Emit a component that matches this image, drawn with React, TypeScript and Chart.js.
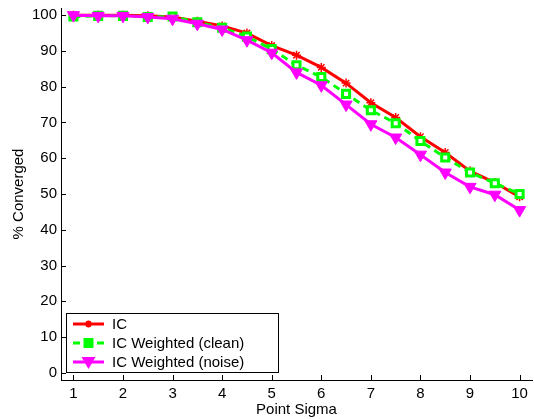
import React, { useEffect, useRef } from "react";
import { Chart, registerables } from "chart.js";

Chart.register(...registerables);

const sigmas = [1, 1.5, 2, 2.5, 3, 3.5, 4, 4.5, 5, 5.5, 6, 6.5, 7, 7.5, 8, 8.5, 9, 9.5, 10];
const icValues = [100, 100, 100, 99.8, 99.5, 98.3, 97, 95, 91.5, 88.8, 85.4, 81, 75.5, 71.4, 66, 61.6, 56.4, 53.2, 49.2];
const cleanValues = [99.6, 99.8, 99.8, 99.5, 99.6, 98, 96.5, 94, 90.5, 86, 82.7, 78, 73.4, 69.8, 64.8, 60.2, 56, 53, 50];
const noiseValues = [100, 99.8, 99.8, 99.5, 99, 97.6, 96, 93, 89.5, 84, 80.4, 75, 69.5, 65.8, 61, 56, 52, 49.8, 45.5];
const seriesLabels = ["IC", "IC Weighted (clean)", "IC Weighted (noise)"];
const xTicks = [1, 2, 3, 4, 5, 6, 7, 8, 9, 10];
const yTicks = [0, 10, 20, 30, 40, 50, 60, 70, 80, 90, 100];

const FONT = "'Liberation Sans', Arial, sans-serif";
const RED = "#ff0000";
const GREEN = "#00ff00";
const MAGENTA = "#ff00ff";

function drawStar(ctx: CanvasRenderingContext2D, x: number, y: number, r: number, color: string) {
  ctx.save();
  ctx.strokeStyle = color;
  ctx.lineWidth = 2;
  ctx.beginPath();
  ctx.moveTo(x - r, y); ctx.lineTo(x + r, y);
  ctx.moveTo(x, y - r); ctx.lineTo(x, y + r);
  const d = r * 0.7;
  ctx.moveTo(x - d, y - d); ctx.lineTo(x + d, y + d);
  ctx.moveTo(x - d, y + d); ctx.lineTo(x + d, y - d);
  ctx.stroke();
  ctx.restore();
}

function drawRect(ctx: CanvasRenderingContext2D, x: number, y: number, r: number, color: string) {
  ctx.save();
  ctx.fillStyle = color;
  ctx.fillRect(x - r, y - r, 2 * r, 2 * r);
  ctx.restore();
}

function drawTriDown(ctx: CanvasRenderingContext2D, x: number, y: number, r: number, color: string) {
  ctx.save();
  ctx.fillStyle = color;
  ctx.beginPath();
  ctx.moveTo(x - r, y - r * 0.7);
  ctx.lineTo(x + r, y - r * 0.7);
  ctx.lineTo(x, y + r);
  ctx.closePath();
  ctx.fill();
  ctx.restore();
}

const overlayPlugin = {
  id: "overlay",
  afterDatasetsDraw(chart: any) {
    const ctx: CanvasRenderingContext2D = chart.ctx;
    const xs = chart.scales.x;
    const ys = chart.scales.y;
    const area = chart.chartArea;
    ctx.save();
    ctx.strokeStyle = "#000";
    ctx.lineWidth = 1;
    ctx.beginPath();
    for (const t of xTicks) {
      const px = Math.round(xs.getPixelForValue(t)) + 0.5;
      ctx.moveTo(px, area.bottom);
      ctx.lineTo(px, area.bottom - 5);
    }
    for (const t of yTicks) {
      const py = Math.round(ys.getPixelForValue(t)) + 0.5;
      ctx.moveTo(area.left, py);
      ctx.lineTo(area.left + 5, py);
    }
    ctx.stroke();
    ctx.restore();

    const bx = 66, by = 313, bw = 212, bh = 59;
    ctx.save();
    ctx.fillStyle = "#fff";
    ctx.fillRect(bx, by, bw, bh);
    ctx.strokeStyle = "#000";
    ctx.lineWidth = 1;
    ctx.strokeRect(bx + 0.5, by + 0.5, bw, bh);
    const rows = [324, 343, 362];
    const colors = [RED, GREEN, MAGENTA];
    ctx.font = `15px ${FONT}`;
    ctx.textBaseline = "middle";
    ctx.textAlign = "left";
    rows.forEach((ry, i) => {
      ctx.save();
      ctx.strokeStyle = colors[i];
      ctx.lineWidth = 3;
      if (i === 1) ctx.setLineDash([7, 5]);
      ctx.beginPath();
      ctx.moveTo(73, ry);
      ctx.lineTo(104, ry);
      ctx.stroke();
      ctx.restore();
      if (i === 0) drawStar(ctx, 88.5, ry, 3.5, RED);
      if (i === 1) drawRect(ctx, 88.5, ry, 5, GREEN);
      if (i === 2) drawTriDown(ctx, 88.5, ry, 7, MAGENTA);
      ctx.fillStyle = "#000";
      ctx.fillText(seriesLabels[i], 112, ry + 1);
    });
    ctx.restore();
  },
};

export default function App() {
  const canvasRef = useRef<HTMLCanvasElement | null>(null);

  useEffect(() => {
    if (!canvasRef.current) return;
    const toPts = (vals: number[]) => sigmas.map((s, i) => ({ x: s, y: vals[i] }));
    const chart = new Chart(canvasRef.current, {
      type: "line",
      data: {
        datasets: [
          {
            label: seriesLabels[0],
            data: toPts(icValues),
            borderColor: RED,
            backgroundColor: RED,
            borderWidth: 3,
            pointStyle: "star",
            pointRadius: 4.5,
            pointBorderWidth: 1.5,
            pointBorderColor: RED,
            order: 3,
            clip: false,
          },
          {
            label: seriesLabels[1],
            data: toPts(cleanValues),
            borderColor: GREEN,
            backgroundColor: GREEN,
            borderWidth: 3,
            borderDash: [7, 5],
            pointStyle: "rect",
            pointRadius: 5,
            pointBorderWidth: 3,
            pointBorderColor: GREEN,
            pointBackgroundColor: "#ffffff",
            order: 2,
            clip: false,
          },
          {
            label: seriesLabels[2],
            data: toPts(noiseValues),
            borderColor: MAGENTA,
            backgroundColor: MAGENTA,
            borderWidth: 3,
            pointStyle: "triangle",
            rotation: 180,
            pointRadius: 7,
            pointBorderWidth: 1,
            pointBorderColor: MAGENTA,
            order: 1,
            clip: false,
          },
        ],
      },
      options: {
        responsive: false,
        animation: false,
        layout: { autoPadding: false, padding: { top: 8, right: 2, left: 0, bottom: 0 } },
        plugins: {
          legend: { display: false },
          tooltip: { enabled: false },
        },
        scales: {
          x: {
            type: "linear",
            min: 0.75,
            max: 10.25,
            grid: { display: false, drawTicks: false },
            border: { display: true, color: "#000", width: 1 },
            afterBuildTicks: (scale: any) => {
              scale.ticks = xTicks.map((v) => ({ value: v }));
            },
            afterFit: (scale: any) => {
              scale.height = 39;
              scale.paddingLeft = 0;
              scale.paddingRight = 0;
            },
            ticks: {
              color: "#000",
              font: { family: FONT, size: 15 },
              padding: 5,
              maxRotation: 0,
              autoSkip: false,
            },
            title: {
              display: true,
              text: "Point Sigma",
              color: "#000",
              font: { family: FONT, size: 15 },
              padding: { top: 0, bottom: 0 },
            },
          },
          y: {
            type: "linear",
            min: -2,
            max: 102,
            grid: { display: false, drawTicks: false },
            border: { display: true, color: "#000", width: 1 },
            afterBuildTicks: (scale: any) => {
              scale.ticks = yTicks.map((v) => ({ value: v }));
            },
            afterFit: (scale: any) => {
              scale.width = 61;
              scale.paddingTop = 0;
              scale.paddingBottom = 0;
            },
            ticks: {
              color: "#000",
              font: { family: FONT, size: 15 },
              padding: 4,
              autoSkip: false,
            },
            title: {
              display: true,
              text: "% Converged",
              color: "#000",
              font: { family: FONT, size: 15 },
              padding: { top: 10, bottom: 0 },
            },
          },
        },
      },
      plugins: [overlayPlugin],
    } as any);
    return () => chart.destroy();
  }, []);

  return (
    <div style={{ position: "fixed", left: 0, top: 0, width: 534, height: 419, background: "#fff" }}>
      <canvas ref={canvasRef} width={534} height={419} style={{ width: 534, height: 419, display: "block" }} />
    </div>
  );
}
